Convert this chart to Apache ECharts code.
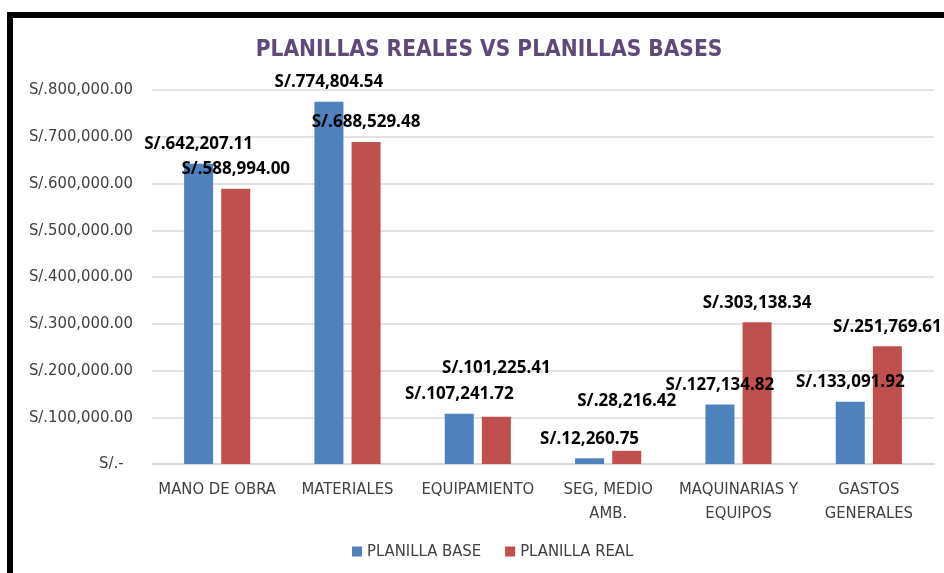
<!DOCTYPE html>
<html>
<head>
<meta charset="utf-8">
<script src="https://cdn.jsdelivr.net/npm/echarts@6/dist/echarts.min.js"></script>
<style>
  html, body { margin: 0; padding: 0; background: #fff; }
  #chart { width: 944px; height: 573px; }
</style>
</head>
<body>
<div id="chart"></div>
<script>
// categories and series
var categories = ['MANO DE OBRA', 'MATERIALES', 'EQUIPAMIENTO', 'SEG, MEDIO\nAMB.', 'MAQUINARIAS Y\nEQUIPOS', 'GASTOS\nGENERALES'];
var planillaBase = [642207.11, 774804.54, 107241.72, 12260.75, 127134.82, 133091.92];
var planillaReal = [588994.00, 688529.48, 101225.41, 28216.42, 303138.34, 251769.61];
// extra label lift (Excel labels moved by hand)
var realLift = [0, 0, 29, 30, 0, 0];

var FONT = '"Liberation Sans Narrow", "DejaVu Sans Condensed", sans-serif';

function money(v) {
    if (v === 0) return 'S/.-  ';
    var s = v.toFixed(2).split('.');
    s[0] = s[0].replace(/\B(?=(\d{3})+(?!\d))/g, ',');
    return 'S/.' + s.join('.');
}

var chart = echarts.init(document.getElementById('chart'));

var labelStyle = {
    show: true,
    position: 'top',
    distance: 11,
    fontFamily: 'Open Sans, sans-serif',
    fontWeight: 'bold',
    fontSize: 17,
    color: '#000',
    formatter: function(p) { return money(p.value); }
};

var realData = planillaReal.map(function(v, i) {
    return { value: v, label: { distance: 11 + realLift[i] } };
});

var option = {
    animation: false,
    title: {
        text: 'PLANILLAS REALES VS PLANILLAS BASES',
        left: 484,
        textAlign: 'center',
        top: 34,
        textStyle: {
            fontFamily: FONT,
            fontSize: 22.5,
            fontWeight: 'bold',
            color: '#5F497A'
        }
    },
    legend: {
        bottom: 8,
        left: 347,
        itemWidth: 10,
        itemHeight: 10,
        itemGap: 24,
        icon: 'rect',
        textStyle: { fontFamily: FONT, fontSize: 16.5, color: '#404040' },
        data: ['PLANILLA BASE', 'PLANILLA REAL']
    },
    grid: { left: 152, right: 10, top: 90, bottom: 109, containLabel: false },
    xAxis: {
        type: 'category',
        data: categories,
        axisLine: { lineStyle: { color: '#d9d9d9', width: 1.5 } },
        axisTick: { show: false },
        axisLabel: {
            fontFamily: FONT,
            fontSize: 16.5,
            color: '#404040',
            lineHeight: 24,
            margin: 14,
            interval: 0
        }
    },
    yAxis: {
        type: 'value',
        min: 0,
        max: 800000,
        interval: 100000,
        axisLine: { show: false },
        axisTick: { show: false },
        splitLine: { lineStyle: { color: '#d9d9d9', width: 1.5 } },
        axisLabel: {
            fontFamily: FONT,
            fontSize: 16.5,
            color: '#404040',
            margin: 19,
            formatter: money
        }
    },
    series: [
        {
            name: 'PLANILLA BASE',
            type: 'bar',
            data: planillaBase,
            barWidth: 29,
            barGap: '28%',
            itemStyle: { color: '#4F81BD' },
            label: labelStyle
        },
        {
            name: 'PLANILLA REAL',
            type: 'bar',
            data: realData,
            barWidth: 29,
            barGap: '28%',
            itemStyle: { color: '#C0504D' },
            label: labelStyle
        }
    ],
    graphic: [
        { type: 'rect', left: 7, top: 12, shape: { width: 937, height: 6 }, style: { fill: '#000' } },
        { type: 'rect', left: 7, top: 12, shape: { width: 6, height: 561 }, style: { fill: '#000' } }
    ]
};

chart.setOption(option);
</script>
</body>
</html>
